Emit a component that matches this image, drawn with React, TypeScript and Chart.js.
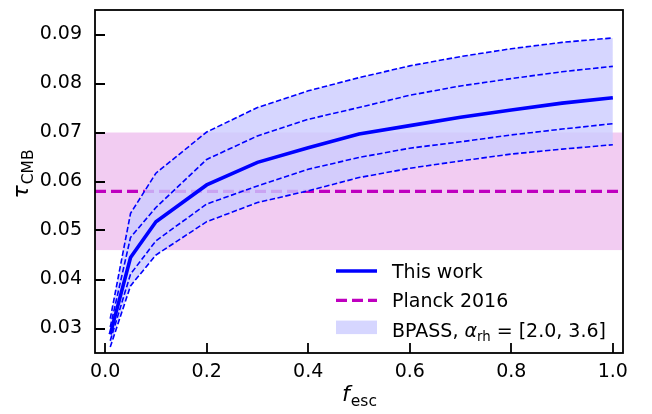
import React, { useEffect, useRef } from "react";
import { Chart, registerables } from "chart.js";

Chart.register(...registerables);

// ---- data ----
const fesc = [0.01, 0.05, 0.1, 0.2, 0.3, 0.4, 0.5, 0.6, 0.7, 0.8, 0.9, 1.0];
const tauThisWork = [0.0288, 0.0445, 0.0518, 0.0593, 0.0639, 0.0669, 0.0697, 0.0714, 0.0731, 0.0746, 0.076, 0.0771];
const tauUpperOuter = [0.032, 0.0535, 0.0617, 0.0701, 0.0751, 0.0785, 0.0812, 0.0836, 0.0855, 0.0871, 0.0884, 0.0893];
const tauUpperInner = [0.0303, 0.0486, 0.0547, 0.0645, 0.0693, 0.0727, 0.0751, 0.0776, 0.0795, 0.081, 0.0824, 0.0835];
const tauLowerInner = [0.0275, 0.0411, 0.0479, 0.0554, 0.0591, 0.0625, 0.0649, 0.0668, 0.0681, 0.0695, 0.0707, 0.0718];
const tauLowerOuter = [0.0262, 0.0387, 0.045, 0.0518, 0.0557, 0.0581, 0.0608, 0.0627, 0.0642, 0.0656, 0.0666, 0.0675];

const planckTau = 0.058;
const planckSigma = 0.012;

const xTicks = [0.0, 0.2, 0.4, 0.6, 0.8, 1.0];
const yTicks = [0.03, 0.04, 0.05, 0.06, 0.07, 0.08, 0.09];
const xLimits = [-0.02, 1.02];
const yLimits = [0.025, 0.095];

const legendThisWork = "This work";
const legendPlanck = "Planck 2016";
const legendBpassPre = "BPASS, ";
const legendBpassSym = "α";
const legendBpassSub = "rh";
const legendBpassPost = " = [2.0, 3.6]";

// ---- styles ----
const FONT = '"DejaVu Sans", "Noto Sans", sans-serif';
const BLUE = "#0000ff";
const MAGENTA = "#bf00bf";
const BAND = "rgba(204,204,255,0.8)";
const PINK = "rgba(191,0,191,0.2)";
const PLANCK_DASH = [11, 5];

const pts = (ys: number[]) => fesc.map((x, i) => ({ x, y: ys[i] }));

const decorPlugin = {
  id: "decor",
  beforeDatasetsDraw(chart: any) {
    const { ctx, chartArea: a, scales } = chart;
    const y = scales.y;
    const top = y.getPixelForValue(planckTau + planckSigma);
    const bot = y.getPixelForValue(planckTau - planckSigma);
    ctx.save();
    ctx.fillStyle = PINK;
    ctx.fillRect(a.left, top, a.right - a.left, bot - top);
    ctx.restore();
  },
  afterDraw(chart: any) {
    const { ctx, chartArea: a, scales } = chart;
    const xs = scales.x;
    const ys = scales.y;
    ctx.save();
    // frame
    ctx.strokeStyle = "#000";
    ctx.lineWidth = 1.8;
    ctx.strokeRect(a.left, a.top, a.right - a.left, a.bottom - a.top);
    // inward ticks
    ctx.lineWidth = 1.8;
    ctx.beginPath();
    for (const v of xTicks) {
      const px = Math.round(xs.getPixelForValue(v));
      ctx.moveTo(px, a.bottom);
      ctx.lineTo(px, a.bottom - 10);
    }
    for (const v of yTicks) {
      const py = Math.round(ys.getPixelForValue(v));
      ctx.moveTo(a.left, py);
      ctx.lineTo(a.left + 10, py);
    }
    ctx.stroke();

    // x axis title: f_esc
    ctx.fillStyle = "#000";
    ctx.textBaseline = "alphabetic";
    ctx.textAlign = "left";
    const mainFont = `italic 22px ${FONT}`;
    const subFont = `15.5px ${FONT}`;
    ctx.font = mainFont;
    const wf = ctx.measureText("f").width;
    ctx.font = subFont;
    const we = ctx.measureText("esc").width;
    const cx = (a.left + a.right) / 2;
    const xStart = cx - (wf + we) / 2;
    const base = a.bottom + 48;
    ctx.font = mainFont;
    ctx.fillText("f", xStart, base);
    ctx.font = subFont;
    ctx.fillText("esc", xStart + wf + 1, base + 5);

    // y axis title: tau_CMB
    ctx.font = mainFont;
    const wt = ctx.measureText("τ").width;
    ctx.font = subFont;
    const wc = ctx.measureText("CMB").width;
    ctx.save();
    ctx.translate(28, (a.top + a.bottom) / 2 - 7);
    ctx.rotate(-Math.PI / 2);
    const ys0 = -(wt + wc) / 2;
    ctx.font = mainFont;
    ctx.fillText("τ", ys0, 0);
    ctx.font = subFont;
    ctx.fillText("CMB", ys0 + wt + 1, 5);
    ctx.restore();

    // legend
    const lx0 = a.left + 241;
    const lx1 = lx0 + 41;
    const tx = lx0 + 56;
    const r0 = 271;
    const step = 29.3;
    const lfont = `19px ${FONT}`;
    // This work
    ctx.strokeStyle = BLUE;
    ctx.lineWidth = 3.5;
    ctx.setLineDash([]);
    ctx.beginPath();
    ctx.moveTo(lx0, r0);
    ctx.lineTo(lx1, r0);
    ctx.stroke();
    ctx.fillStyle = "#000";
    ctx.font = lfont;
    ctx.fillText(legendThisWork, tx, r0 + 6.9);
    // Planck
    ctx.strokeStyle = MAGENTA;
    ctx.lineWidth = 3.2;
    ctx.setLineDash(PLANCK_DASH);
    ctx.beginPath();
    ctx.moveTo(lx0, r0 + step);
    ctx.lineTo(lx1, r0 + step);
    ctx.stroke();
    ctx.setLineDash([]);
    ctx.fillText(legendPlanck, tx, r0 + step + 6.9);
    // BPASS
    ctx.fillStyle = BAND;
    ctx.fillRect(lx0, r0 + 2 * step - 9, lx1 - lx0, 13.5);
    ctx.fillStyle = "#000";
    let px = tx;
    const by = r0 + 2 * step + 6.9;
    ctx.font = lfont;
    ctx.fillText(legendBpassPre, px, by);
    px += ctx.measureText(legendBpassPre).width;
    ctx.font = `italic 19px ${FONT}`;
    ctx.fillText(legendBpassSym, px, by);
    px += ctx.measureText(legendBpassSym).width;
    ctx.font = `13.3px ${FONT}`;
    ctx.fillText(legendBpassSub, px, by + 4);
    px += ctx.measureText(legendBpassSub).width;
    ctx.font = lfont;
    ctx.fillText(legendBpassPost, px, by);
    ctx.restore();
  },
};

export default function App() {
  const ref = useRef<HTMLCanvasElement | null>(null);
  useEffect(() => {
    if (!ref.current) return;
    const dashed = {
      borderColor: BLUE,
      borderWidth: 1.6,
      borderDash: [5.5, 2.5],
      pointRadius: 0,
      tension: 0,
    };
    const chart = new Chart(ref.current, {
      type: "line",
      data: {
        datasets: [
          { label: legendThisWork, data: pts(tauThisWork), borderColor: BLUE, borderWidth: 3.6, pointRadius: 0, tension: 0, fill: false, order: 0 },
          { label: "upper inner", data: pts(tauUpperInner), ...dashed, fill: false, order: 1 },
          { label: "lower inner", data: pts(tauLowerInner), ...dashed, fill: false, order: 1 },
          { label: "upper outer", data: pts(tauUpperOuter), ...dashed, fill: false, order: 2 },
          { label: "lower outer", data: pts(tauLowerOuter), ...dashed, fill: "-1", backgroundColor: BAND, order: 2 },
          {
            label: legendPlanck,
            data: [
              { x: xLimits[0], y: planckTau },
              { x: xLimits[1], y: planckTau },
            ],
            borderColor: MAGENTA,
            borderWidth: 3.2,
            borderDash: PLANCK_DASH,
            pointRadius: 0,
            fill: false,
            order: 3,
          },
        ] as any,
      },
      options: {
        animation: false,
        responsive: false,
        devicePixelRatio: 1,
        layout: { padding: { top: 10, right: 29, left: 0, bottom: 0 }, autoPadding: false },
        plugins: { legend: { display: false }, tooltip: { enabled: false } },
        scales: {
          x: {
            type: "linear",
            min: xLimits[0],
            max: xLimits[1],
            grid: { display: false, drawTicks: false },
            border: { display: false },
            afterFit: (s: any) => {
              s.height = 61;
              s.paddingLeft = 0;
              s.paddingRight = 0;
            },
            afterBuildTicks: (s: any) => {
              s.ticks = xTicks.map((v) => ({ value: v }));
            },
            ticks: {
              padding: 8,
              color: "#000",
              font: { family: FONT, size: 19 },
              maxRotation: 0,
              autoSkip: false,
              callback: (v: any) => Number(v).toFixed(1),
            },
          },
          y: {
            type: "linear",
            min: yLimits[0],
            max: yLimits[1],
            grid: { display: false, drawTicks: false },
            border: { display: false },
            afterFit: (s: any) => {
              s.width = 95;
              s.paddingTop = 0;
              s.paddingBottom = 0;
            },
            afterBuildTicks: (s: any) => {
              s.ticks = yTicks.map((v) => ({ value: v }));
            },
            ticks: {
              padding: 13,
              color: "#000",
              font: { family: FONT, size: 19 },
              autoSkip: false,
              callback: (v: any) => Number(v).toFixed(2),
            },
          },
        },
      },
      plugins: [decorPlugin],
    } as any);
    return () => chart.destroy();
  }, []);
  return (
    <div style={{ position: "fixed", left: 0, top: 0, width: 652, height: 414, background: "#fff" }}>
      <canvas ref={ref} width={652} height={414} style={{ display: "block", width: 652, height: 414 }} />
    </div>
  );
}
